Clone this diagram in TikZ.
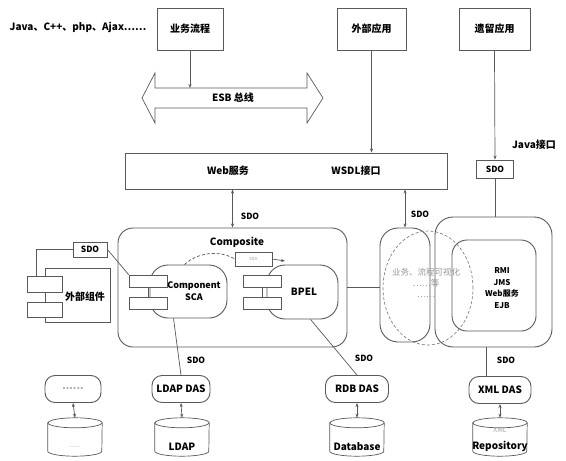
\documentclass[tikz,border=0pt]{standalone}
\usepackage{fontspec}
\setmainfont{Noto Sans CJK SC}
\usetikzlibrary{arrows.meta,shapes.geometric}
\begin{document}
\begin{tikzpicture}[x=1pt,y=-1pt,
  line/.style={draw=black!65, line width=0.7pt},
  box/.style={draw=black!65, line width=0.9pt, fill=white, inner sep=1pt, font=\fontsize{10}{11}\selectfont\bfseries},
  rbox/.style={box, rounded corners=10pt},
  port/.style={draw=black!65, line width=0.7pt, fill=white, minimum width=38pt, minimum height=12pt, inner sep=0pt},
  lbl/.style={font=\fontsize{10}{11}\selectfont\bfseries, inner sep=1pt},
  sdo/.style={font=\fontsize{8.5}{9}\selectfont\bfseries, inner sep=1pt},
  faint/.style={font=\fontsize{7}{9}\selectfont, text=black!35, inner sep=1pt},
  arr/.style={line, -{Stealth[length=4pt,width=3pt]}},
  darr/.style={line, {Stealth[length=4pt,width=3pt]}-{Stealth[length=4pt,width=3pt]}},
]
\useasboundingbox (0,0) rectangle (566,461);

% top row
\node[lbl] (langs) at (78,27) {Java、C++、php、Ajax……};
\node[box, minimum width=66pt, minimum height=42pt] (bp) at (190,29) {业务流程};
\node[box, minimum width=69pt, minimum height=42pt] (ext) at (371.5,29) {外部应用};
\node[box, minimum width=71pt, minimum height=42pt] (leg) at (494.5,29) {遗留应用};

% ESB bus
\draw[line, fill=white] (142,98) -- (155,73) -- (155,88) -- (307,88) -- (307,73) -- (323,98)
  -- (307,123) -- (307,108) -- (155,108) -- (155,123) -- cycle;
\node[lbl] (esb) at (233,98) {ESB 总线};
\coordinate (esbtop) at (190,88);
\draw[arr] (bp.south) -- (esbtop);

% web services bar
\node[box, minimum width=322pt, minimum height=36pt] (web) at (286,171) {};
\node[lbl] (websvc) at (228,171) {Web服务};
\node[lbl] (wsdl) at (356,171) {WSDL接口};
\draw[arr] (ext.south) -- (ext.south |- web.north);

\node[lbl] (javaif) at (534,145) {Java接口};
\node[box, minimum width=37pt, minimum height=18pt, font=\fontsize{8.5}{9}\selectfont\bfseries] (sdo1) at (495,169) {SDO};
\draw[arr] (leg.south) -- (sdo1.north);

% composite
\node[box, rounded corners=15pt, minimum width=229pt, minimum height=119pt] (comp) at (232.5,287.5) {};
\draw[darr] (web.south -| comp.north) -- (comp.north);
\node[sdo] (sdoA) at (250,216) {SDO};

% right cluster
\node[box, rounded corners=18pt, minimum width=50pt, minimum height=114pt] (lrect) at (405,285) {};
\draw[darr] (web.south -| lrect.north) -- (lrect.north);
\node[sdo] (sdoB) at (420,214) {SDO};
\node[box, rounded corners=18pt, minimum width=117pt, minimum height=130pt] (big) at (493.5,282) {};
\node[box, rounded corners=15pt, minimum width=84pt, minimum height=91pt] (inner) at (494,285.5) {};
\node[inner sep=1pt, align=center, font=\fontsize{8}{11.5}\selectfont\bfseries] (rmi) at (502,288) {RMI\\JMS\\Web服务\\EJB};
\node[draw=black!55, densely dashed, ellipse, minimum width=90pt, minimum height=114pt, line width=0.6pt] (ell) at (428,288) {};
\node[faint, align=center, font=\fontsize{8.5}{11}\selectfont, text=black!40] (vis) at (426,283) {业务、流程可视化\\……等\\……};
\draw[line] (comp.east) -- (comp.east -| lrect.west);
\draw[line] (sdo1.south) -- (sdo1.south |- big.north);

% inside composite
\node[lbl] (compositelbl) at (237,242) {Composite};
\node[draw=black!65, line width=0.6pt, fill=white, minimum width=37pt, minimum height=14pt, inner sep=0pt,
  font=\fontsize{4}{4}\selectfont, text=black!40] (tiny) at (253.5,259) {SDO};
\coordinate (tinyend) at (285,261);
\draw[arr] (tiny.east) -- (tinyend);

\node[box, rounded corners=18pt, minimum width=77pt, minimum height=53pt] (sca) at (188.5,291.5) {};
\node[port] (scap1) at (148,281) {};
\node[port] (scap2) at (148,303) {};
\draw[line] (scap1.south) -- (scap2.north);
\node[lbl, align=center, font=\fontsize{9}{12}\selectfont\bfseries] (scalbl) at (194,291) {Component\\SCA};
\draw[line, densely dashed] ([xshift=-4pt]sca.north) .. controls (198,252) and (220,250) .. (tiny.west);

\node[box, rounded corners=18pt, minimum width=71pt, minimum height=54pt] (bpel) at (302.5,292) {};
\node[port] (bpelp1) at (262.5,281) {};
\node[port] (bpelp2) at (262.5,303) {};
\draw[line] (bpelp1.south) -- (bpelp2.north);
\node[lbl] (bpellbl) at (304,292) {BPEL};

% external component
\node[box, minimum width=65pt, minimum height=54pt] (extc) at (77.5,295) {};
\node[port, minimum width=35pt, minimum height=16pt] (extp1) at (44.5,284) {};
\node[port, minimum width=35pt, minimum height=15pt] (extp2) at (44.5,309.5) {};
\node[lbl] (extclbl) at (85,297) {外部组件};
\node[box, font=\fontsize{8.5}{9}\selectfont\bfseries, minimum width=34pt, minimum height=15pt] (sdo2) at (90,249.5) {SDO};
\draw[line] ([xshift=-8pt]extp1.north) |- (sdo2.west);
\draw[line] (sdo2.east) -- (scap1.north west);

% bottom DAS row
\node[rbox, minimum width=56pt, minimum height=27pt, text=black!35] (das0) at (73,389) {......};
\node[rbox, minimum width=58pt, minimum height=27pt] (das1) at (181,389) {LDAP DAS};
\node[rbox, minimum width=63pt, minimum height=27pt] (das2) at (357,389) {RDB DAS};
\node[rbox, minimum width=62pt, minimum height=27pt] (das3) at (500,390) {XML DAS};

\draw[line] ([xshift=-15pt]sca.south) -- (das1.north);
\node[sdo] (sdoC) at (196,360) {SDO};
\draw[line] ([xshift=8pt]bpel.south) -- (das2.north);
\node[sdo] (sdoD) at (364,358) {SDO};
\draw[line] ([xshift=-14pt]das3.north) -- ([xshift=-14pt]das3.north |- big.south);
\node[sdo] (sdoE) at (506,360) {SDO};

% cylinders
\node[minimum width=54pt, minimum height=38pt, inner sep=0pt] (cyl0) at (75,437) {};
\node[minimum width=54pt, minimum height=38pt, inner sep=0pt] (cyl1) at (182,437) {};
\node[minimum width=54pt, minimum height=38pt, inner sep=0pt] (cyl2) at (357,437) {};
\node[minimum width=54pt, minimum height=38pt, inner sep=0pt] (cyl3) at (500,437) {};
\foreach \c in {cyl0,cyl1,cyl2,cyl3}{
  \draw[line, fill=white] ([yshift=-5pt]\c.north west) -- ([yshift=5pt]\c.south west)
    arc[start angle=180, end angle=360, x radius=27pt, y radius=5pt]
    -- ([yshift=-5pt]\c.north east)
    arc[start angle=0, end angle=180, x radius=27pt, y radius=5pt] -- cycle;
  \draw[line] ([yshift=-5pt]\c.north west) arc[start angle=180, end angle=360, x radius=27pt, y radius=5pt];
}
\node[faint] (cyl0lbl) at (75,447) {......};
\node[lbl] (cyl1lbl) at (182,447) {LDAP};
\node[lbl] (cyl2lbl) at (357,447) {Database};
\node[faint] (cyl3top) at (500,430) {XML};
\node[lbl] (cyl3lbl) at (500,446) {Repository};

\draw[darr] (das0.south) -- (cyl0.north);
\draw[darr] (das1.south) -- (cyl1.north);
\draw[darr] (das2.south) -- (cyl2.north);
\draw[darr] (das3.south) -- (cyl3.north);
\end{tikzpicture}
\end{document}
